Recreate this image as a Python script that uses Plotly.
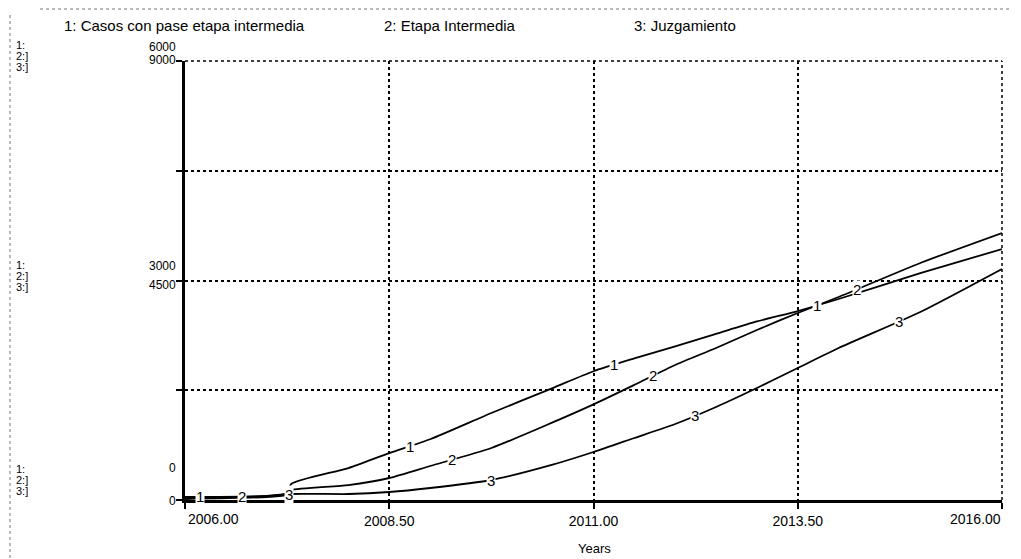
import plotly.graph_objects as go
import numpy as np

# ---- data ----
years = [2006, 2007, 2007.25, 2007.3, 2008, 2008.5, 2009, 2009.75, 2010.5, 2011,
         2011.5, 2012, 2012.5, 2013, 2013.5, 2014, 2015, 2016]
casos_pase = [41, 55, 82, 219, 437, 642, 830, 1189, 1530, 1760,
              1935, 2100, 2270, 2440, 2583, 2747, 3100, 3430]
etapa_intermedia = [41, 82, 140, 205, 307, 451, 697, 1066, 1590, 1960,
                    2360, 2768, 3116, 3485, 3834, 4162, 4859, 5474]
juzgamiento = [20, 61, 100, 123, 123, 164, 246, 410, 725, 984,
               1271, 1558, 1907, 2296, 2706, 3116, 3854, 4736]

series_names = ["1: Casos con pase etapa intermedia", "2: Etapa Intermedia", "3: Juzgamiento"]
x_ticks = [2006, 2008.5, 2011, 2013.5, 2016]
x_ticklabels = ["2006.00", "2008.50", "2011.00", "2013.50", "2016.00"]
y1_ticks = [0, 1500, 3000, 4500, 6000]
y_labels_left = [("6000", "9000"), ("3000", "4500"), ("0", "0")]

# positions of the in-line series markers
mark_x = {
    1: [2006.18, 2008.75, 2011.25, 2013.74],
    2: [2006.70, 2009.27, 2011.73, 2014.22],
    3: [2007.27, 2009.75, 2012.24, 2014.74],
}

# page is offset by the default 8px body margin
OX, OY = 8, 8
PAGE_W, PAGE_H = 1021, 559
W, H = PAGE_W - OX, PAGE_H - OY
PL, PR, PT, PB = 185, 1002, 61, 500          # plot box in page pixels
L, R, T, B = PL - OX, PAGE_W - PR, PT - OY, PAGE_H - PB
PW, PH = PR - PL, PB - PT
FONT = "Liberation Sans"


def px(xp, yp):
    """page pixel -> paper coords"""
    return (xp - PL) / PW, (PB - yp) / PH


fig = go.Figure()
fig.add_trace(go.Scatter(x=years, y=casos_pase, mode="lines", yaxis="y", line_shape="spline",
                         line=dict(color="black", width=1.8, smoothing=0.6), name=series_names[0]))
fig.add_trace(go.Scatter(x=years, y=etapa_intermedia, mode="lines", yaxis="y2", line_shape="spline",
                         line=dict(color="black", width=1.8, smoothing=0.6), name=series_names[1]))
fig.add_trace(go.Scatter(x=years, y=juzgamiento, mode="lines", yaxis="y2", line_shape="spline",
                         line=dict(color="black", width=1.8, smoothing=0.6), name=series_names[2]))

annotations = []
# in-line numeric markers
for k, (ser, yref) in {1: (casos_pase, "y"), 2: (etapa_intermedia, "y2"), 3: (juzgamiento, "y2")}.items():
    for xv in mark_x[k]:
        yv = float(np.interp(xv, years, ser))
        annotations.append(dict(x=xv, y=yv, xref="x", yref=yref, text=str(k), showarrow=False,
                                font=dict(family=FONT, size=15, color="black"),
                                bgcolor="white", borderpad=0))

# legend texts at the top
for name, xl in zip(series_names, [62, 382, 632]):
    xp, yp = px(xl, 25)
    annotations.append(dict(x=xp, y=yp, xref="paper", yref="paper", text=name, showarrow=False,
                            xanchor="left", yanchor="middle",
                            font=dict(family=FONT, size=15, color="black")))

# left scale labels
for (a, b), (ya, yb) in zip(y_labels_left, [(47, 60), (266, 285), (468, 501)]):
    for txt, yy in ((a, ya), (b, yb)):
        xp, yp = px(178, yy)
        annotations.append(dict(x=xp, y=yp, xref="paper", yref="paper", text=txt, showarrow=False,
                                xanchor="right", yanchor="middle",
                                font=dict(family=FONT, size=12, color="black")))
# left "1: 2:] 3:]" groups
for y0 in (45, 265, 469):
    for i, t in enumerate(["1:", "2:]", "3:]"]):
        xp, yp = px(14, y0 + 11 * i)
        annotations.append(dict(x=xp, y=yp, xref="paper", yref="paper", text=t, showarrow=False,
                                xanchor="left", yanchor="middle",
                                font=dict(family=FONT, size=11, color="black")))

# first / last x tick labels are edge-aligned in the reference
for txt, xl, anchor in ((x_ticklabels[0], 186, "left"), (x_ticklabels[-1], 1003, "right")):
    xp, yp = px(xl, 519)
    annotations.append(dict(x=xp, y=yp, xref="paper", yref="paper", text=txt, showarrow=False,
                            xanchor=anchor, yanchor="middle",
                            font=dict(family=FONT, size=14, color="black")))

# axis title
xp, yp = px(594, 548)
annotations.append(dict(x=xp, y=yp, xref="paper", yref="paper", text="Years", showarrow=False,
                        xanchor="center", yanchor="middle",
                        font=dict(family=FONT, size=13, color="black")))

shapes = [
    # dotted top and right border of plot
    dict(type="line", xref="paper", yref="paper", x0=0, x1=1, y0=1, y1=1,
         line=dict(color="black", width=1.5, dash="dot")),
    dict(type="line", xref="paper", yref="paper", x0=1, x1=1, y0=0, y1=1,
         line=dict(color="black", width=1.5, dash="dot")),
]
# faint scanned frame
x0p, y0p = px(40, 9)
x1p, _ = px(1012, 9)
shapes.append(dict(type="line", xref="paper", yref="paper", x0=x0p, x1=x1p, y0=y0p, y1=y0p,
                   line=dict(color="#777777", width=1, dash="dot")))
xa, ya = px(10, 15)
_, yb = px(10, 559)
shapes.append(dict(type="line", xref="paper", yref="paper", x0=xa, x1=xa, y0=ya, y1=yb,
                   line=dict(color="#777777", width=1, dash="dot")))

tick_text_mid = [""] + x_ticklabels[1:-1] + [""]

fig.update_layout(
    width=W, height=H,
    margin=dict(l=L, r=R, t=T, b=B, pad=0),
    paper_bgcolor="white", plot_bgcolor="white",
    showlegend=False,
    font=dict(family=FONT, size=13, color="black"),
    xaxis=dict(range=[2006, 2016], tickvals=x_ticks, ticktext=tick_text_mid,
               showgrid=True, gridcolor="black", griddash="dot", gridwidth=1.5,
               showline=True, linecolor="black", linewidth=3,
               ticks="outside", ticklen=6, tickwidth=2, tickcolor="black",
               zeroline=False, tickfont=dict(family=FONT, size=14)),
    yaxis=dict(range=[0, 6000], tickvals=y1_ticks, showticklabels=False,
               showgrid=True, gridcolor="black", griddash="dot", gridwidth=1.5,
               showline=True, linecolor="black", linewidth=3,
               ticks="outside", ticklen=6, tickwidth=2, tickcolor="black",
               zeroline=False),
    yaxis2=dict(range=[0, 9000], overlaying="y", side="left", visible=False),
    annotations=annotations,
    shapes=shapes,
)

fig.write_html("out.html")
